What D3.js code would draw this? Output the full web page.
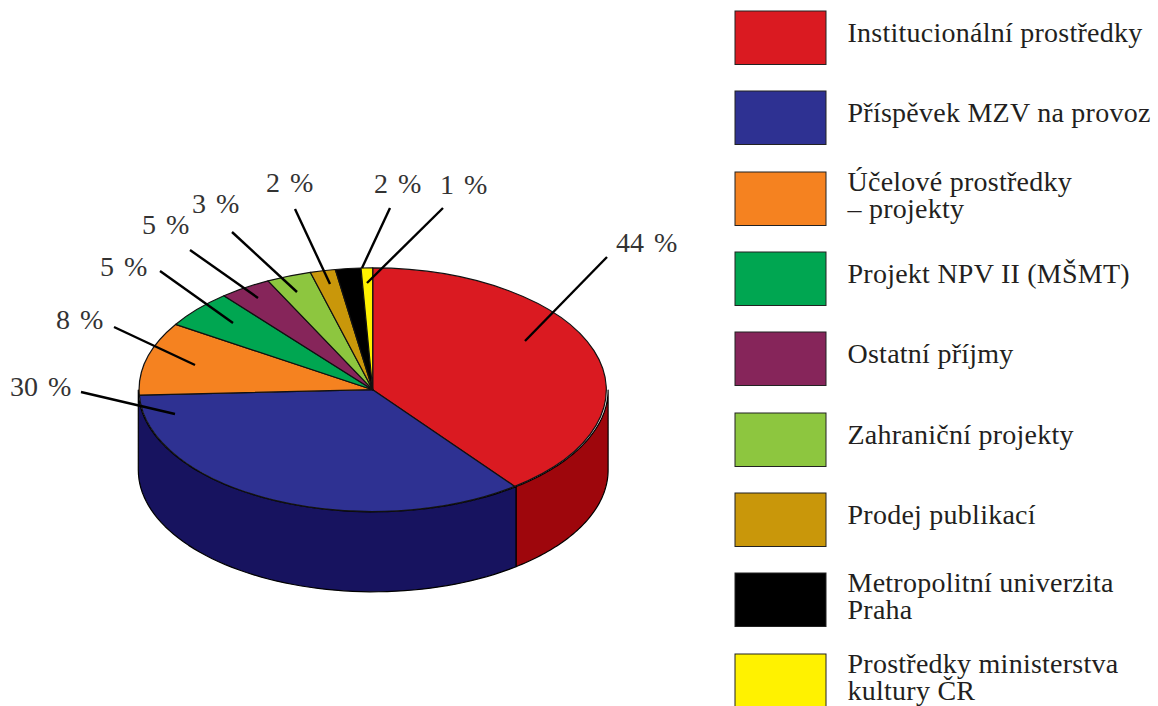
<!DOCTYPE html>
<html>
<head>
<meta charset="utf-8">
<script src="https://cdn.jsdelivr.net/npm/d3@7/dist/d3.min.js"></script>
<style>
html,body{margin:0;padding:0;background:#fff;overflow:hidden}
svg{display:block}
text{font-family:"Liberation Serif",serif;fill:#231f20}
</style>
</head>
<body>
<svg id="chart" width="1158" height="706"></svg>
<script>
// Data
const categories = ["Institucionální prostředky","Příspěvek MZV na provoz","Účelové prostředky\n– projekty","Projekt NPV II (MŠMT)","Ostatní příjmy","Zahraniční projekty","Prodej publikací","Metropolitní univerzita\nPraha","Prostředky ministerstva\nkultury ČR"];
const printedValues = [44,30,8,5,5,3,2,2,1];
// Slice sizes as drawn in the picture (they differ from the printed labels)
const drawnShares = [39.6,34.7,9.7,5.0,3.6,3.1,1.75,1.75,0.8];
const topColors = ["#da1a21","#2e3192","#f58220","#00a651","#86255a","#8dc63f","#c9970a","#000000","#fff200"];
const wallColors = ["#9e060c","#17135f"];

// Layout
const top3d = {cx:372.7, cy:389.7, rx:233.6, ry:121.8};
const wall3d = {cx:373.2, cy:390, rx:234.9, ry:121.8, depth:80};
const labelPos = [[616,252],[10,396],[56,329],[100,276],[142,234],[192,213],[266,192],[374,193],[440,194]];
const leaders = [[607,257,525,341],[81,392,175,414],[114,327,195,365],[160,271,233,323],[190,250,258,298],[232,232,297,292],[295,209,330,284],[390,208,362,268],[443,208,367,283]];
const legendTops = [11,91,172,252,332,413,493,573,654];

const svg = d3.select("#chart");
const pie = d3.pie().sort(null).value(d=>d);
const arcs = pie(drawnShares);
const px = d3.scaleLinear().domain([-1,1]).range([wall3d.cx-wall3d.rx,wall3d.cx+wall3d.rx]);
const py = d3.scaleLinear().domain([-1,1]).range([wall3d.cy-wall3d.ry,wall3d.cy+wall3d.ry]);
const rim = a=>[px(Math.sin(a)),py(-Math.cos(a))];

// Side walls: only the front half of the rim is visible
const wallSpans = [[Math.PI/2,arcs[0].endAngle],[arcs[0].endAngle,Math.PI*1.5]];
svg.append("g").selectAll("path").data(wallSpans).join("path")
  .attr("d",([a0,a1])=>{
    const n=60, angles=d3.range(n+1).map(i=>a0+(a1-a0)*i/n);
    const top=angles.map(rim), bottom=angles.map(a=>{const p=rim(a);return [p[0],p[1]+wall3d.depth];}).reverse();
    return d3.line()(top.concat(bottom))+"Z";
  })
  .attr("fill",(d,i)=>wallColors[i])
  .attr("stroke","#000").attr("stroke-width",1.2).attr("stroke-linejoin","round");

// Top face
const arc = d3.arc().innerRadius(0).outerRadius(1);
svg.append("g").attr("transform",`translate(${top3d.cx},${top3d.cy}) scale(${top3d.rx},${top3d.ry})`)
  .selectAll("path").data(arcs).join("path")
  .attr("d",arc)
  .attr("fill",(d,i)=>topColors[i])
  .attr("stroke","#111").attr("stroke-width",1.2).attr("vector-effect","non-scaling-stroke").attr("stroke-linejoin","round");

// Leader lines
svg.append("g").selectAll("line").data(leaders).join("line")
  .attr("x1",d=>d[0]).attr("y1",d=>d[1]).attr("x2",d=>d[2]).attr("y2",d=>d[3])
  .attr("stroke","#000").attr("stroke-width",2.4);

// Value labels
svg.append("g").selectAll("text").data(printedValues).join("text")
  .attr("x",(d,i)=>labelPos[i][0]).attr("y",(d,i)=>labelPos[i][1])
  .attr("font-size",28).attr("word-spacing",3).style("fill","#333")
  .text(d=>d+" %");

// Legend
const legend = svg.append("g").selectAll("g").data(categories).join("g")
  .attr("transform",(d,i)=>`translate(735,${legendTops[i]})`);
legend.append("rect").attr("width",91).attr("height",53.5)
  .attr("fill",(d,i)=>topColors[i]).attr("stroke","#222").attr("stroke-width",1);
legend.append("text").attr("font-size",28).attr("letter-spacing",0.25).each(function(d){
  const lines=d.split("\n");
  const t=d3.select(this);
  lines.forEach((s,k)=>{
    t.append("tspan").attr("x",112.5).attr("y",lines.length===1 ? 31 : 19+k*27).text(s);
  });
});
</script>
</body>
</html>
